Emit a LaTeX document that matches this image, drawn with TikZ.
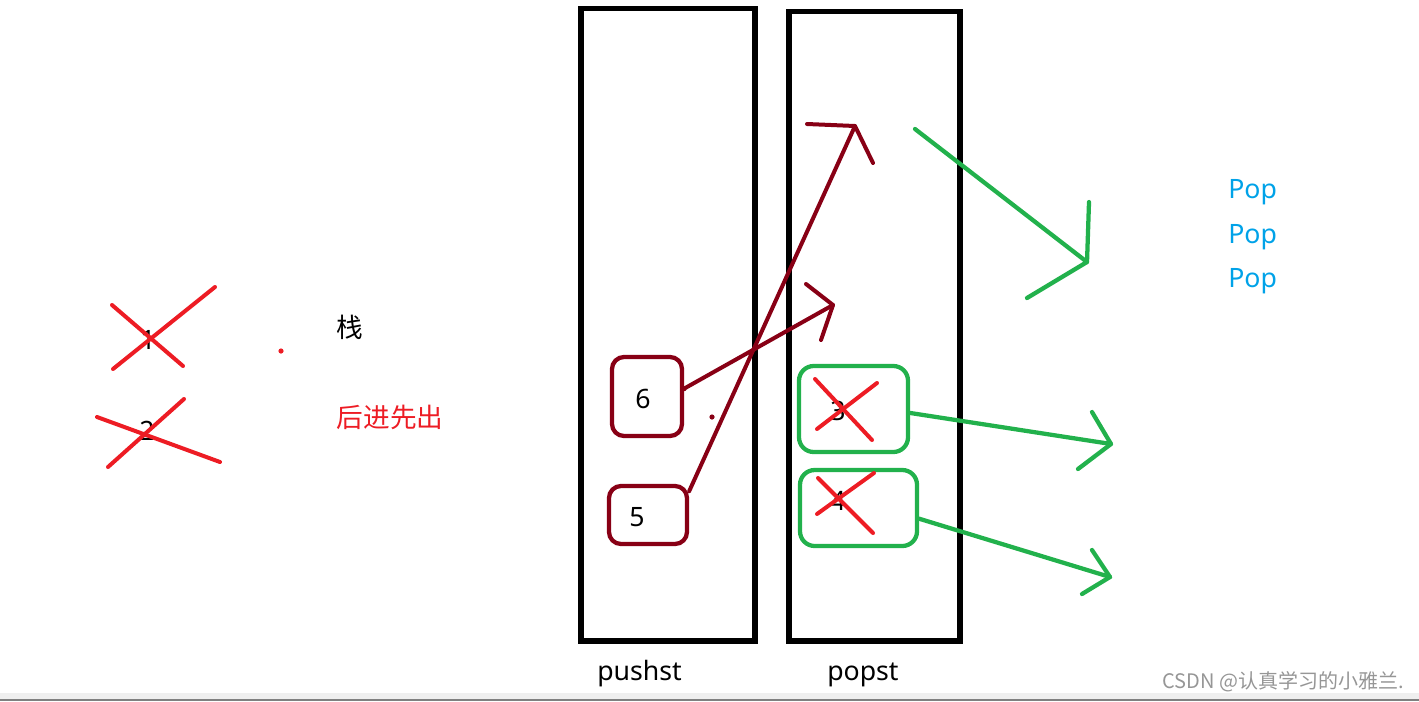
\documentclass[tikz,border=0pt]{standalone}
\usepackage{fontspec}
\setmainfont{Noto Sans}
\newfontfamily\cjk{Noto Sans CJK SC}
\definecolor{maroon}{RGB}{136,0,21}
\definecolor{pgreen}{RGB}{34,177,76}
\definecolor{pred}{RGB}{237,28,36}
\definecolor{pblue}{RGB}{0,162,232}
\definecolor{barfill}{RGB}{239,239,239}
\definecolor{barline}{RGB}{128,128,128}
\definecolor{wmark}{RGB}{150,150,150}
\begin{document}
\begin{tikzpicture}[x=0.75pt,y=-0.75pt,
  stack/.style={draw=black,line width=3.8pt,inner sep=0pt},
  mbox/.style={draw=maroon,line width=3.2pt,rounded corners=9pt,inner sep=0pt},
  gbox/.style={draw=pgreen,line width=3.2pt,rounded corners=11pt,inner sep=0pt},
  mline/.style={draw=maroon,line width=3pt,line cap=round,line join=round},
  gline/.style={draw=pgreen,line width=3.2pt,line cap=round,line join=round},
  rline/.style={draw=pred,line width=3pt,line cap=round},
  txt/.style={font=\fontsize{20}{24}\selectfont,inner sep=0pt},
  cjktxt/.style={font=\cjk\fontsize{20}{24}\selectfont,inner sep=0pt},
  pop/.style={txt,text=pblue,anchor=base west}]
\useasboundingbox (0,0) rectangle (1419,701);
% bottom bar
\fill[barfill] (0,693) rectangle (1419,699);
\draw[barline,line width=1.2pt] (0,700) -- (1419,700);

% stacks
\node[stack,minimum width=174*0.75pt,minimum height=632.5*0.75pt] (push) at (668,324.75) {};
\node[stack,minimum width=171*0.75pt,minimum height=629.5*0.75pt] (popbox) at (874.5,326.25) {};
\node[txt,anchor=base west] (pushlbl) at (597,680) {pushst};
\node[txt,anchor=base west] (poplbl) at (827,680) {popst};

% maroon boxes
\node[mbox,minimum width=70*0.75pt,minimum height=79*0.75pt] (box6) at (647,396.5) {};
\node[mbox,minimum width=78*0.75pt,minimum height=58*0.75pt] (box5) at (648,515) {};
\node[txt,anchor=base] (n6) at (643,408) {6};
\node[txt,anchor=base] (n5) at (637,526) {5};

% green boxes
\node[gbox,minimum width=109*0.75pt,minimum height=86*0.75pt] (box3) at (853.5,409) {};
\node[gbox,minimum width=117*0.75pt,minimum height=76*0.75pt] (box4) at (858.5,508) {};
\node[txt,anchor=base] (n3) at (838,420) {3};
\node[txt,anchor=base] (n4) at (838,510) {4};

% red crosses on 3 and 4
\draw[rline] (815,379) -- (872,440);
\draw[rline] (877,383) -- (817,429);
\draw[rline] (818,478) -- (873,533);
\draw[rline] (874,473) -- (817,514);

% maroon arrows
\coordinate (t5) at (855,126);
\coordinate (t6) at (833,305);
\draw[mline] (box5.30) -- (t5);
\draw[mline] (807,124) -- (t5) -- (873,163);
\draw[mline] (box6.12) -- (t6);
\draw[mline] (806,284) -- (t6) -- (821,340);
\fill[maroon] (box6.12) circle (2.6);
\fill[maroon] (712,417) circle (2.6);

% green arrows
\coordinate (gs) at (915,129);
\coordinate (g1) at (1087,262);
\coordinate (g2) at (1111,444);
\coordinate (g3) at (1110,577);
\draw[gline] (gs) -- (g1);
\draw[gline] (1089,202) -- (g1) -- (1027,298);
\draw[gline] (box3.-4) -- (g2);
\draw[gline] (1092,412) -- (g2) -- (1078,469);
\draw[gline] (box4.-10) -- (g3);
\draw[gline] (1092,550) -- (g3) -- (1082,594);

% Pop labels
\node[pop] (pop1) at (1228,198) {Pop};
\node[pop] (pop2) at (1228,243) {Pop};
\node[pop] (pop3) at (1228,287) {Pop};

% left crossed numbers
\node[txt,anchor=base] (n1) at (148,349) {1};
\node[txt,anchor=base] (n2) at (147,440) {2};
\draw[rline] (112,305) -- (183,366);
\draw[rline] (215,287) -- (113,369);
\draw[rline] (97,417) -- (220,462);
\draw[rline] (184,399) -- (108,467);
\fill[pred] (281,351) circle (2.6);

\node[cjktxt] (zhan) at (350,327) {栈};
\node[cjktxt,text=pred] (lifo) at (390,417) {后进先出};

% watermark
\node[font=\cjk\fontsize{15}{18}\selectfont,text=wmark,anchor=east,inner sep=0pt] (wm) at (1404,682) {CSDN @认真学习的小雅兰.};
\end{tikzpicture}
\end{document}
